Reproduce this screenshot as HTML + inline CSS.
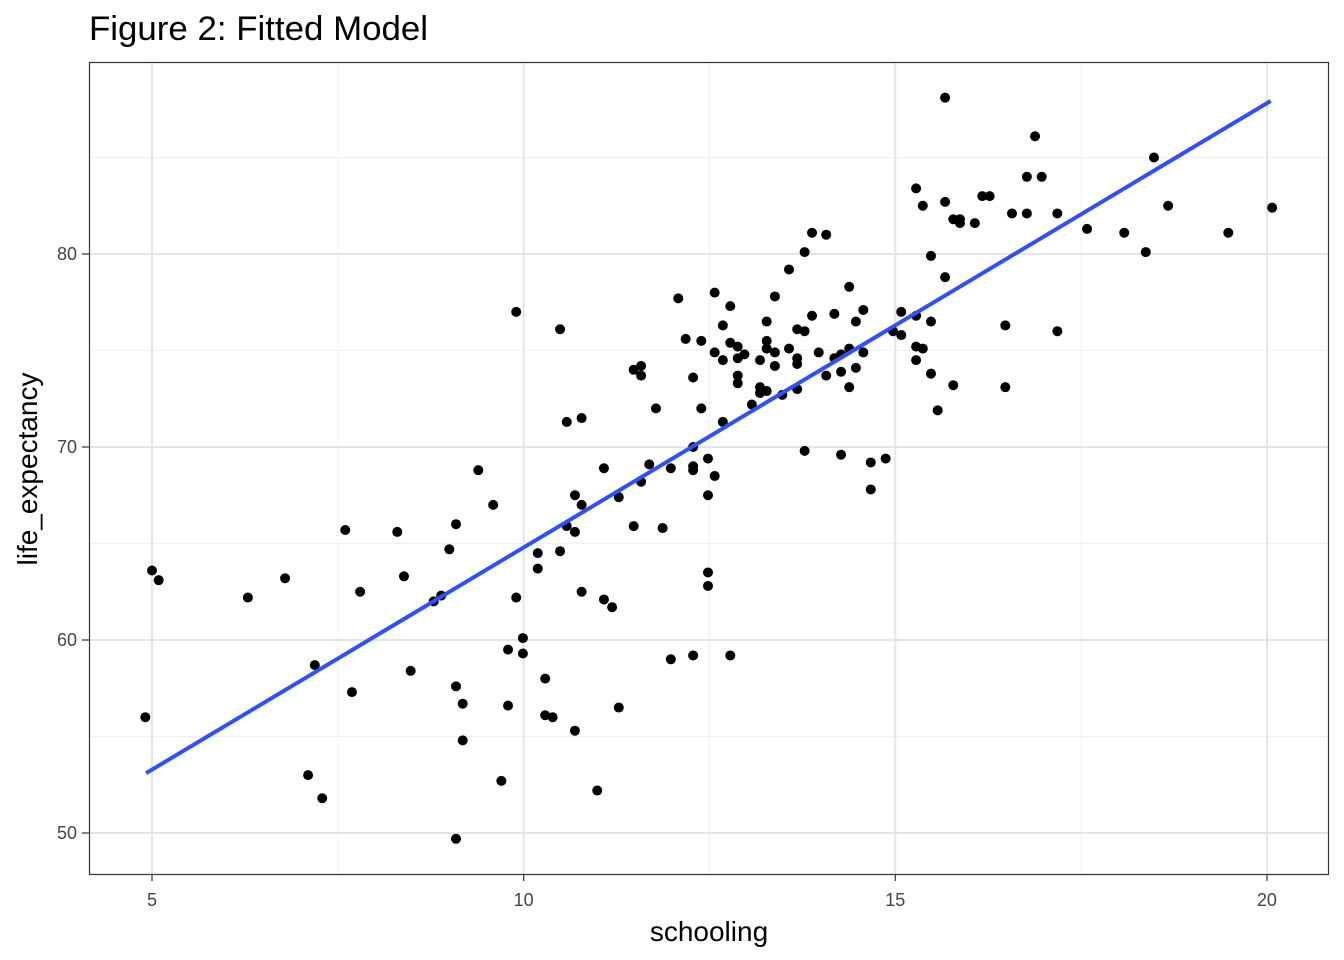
<!DOCTYPE html>
<html><head><meta charset="utf-8"><style>
html,body{margin:0;padding:0;background:#fff;}
svg{display:block;font-family:"Liberation Sans",Arial,sans-serif;}
</style></head><body>
<svg id="chart" width="1344" height="960" viewBox="0 0 1344 960" xmlns="http://www.w3.org/2000/svg">
<text x="89" y="40" font-size="34" fill="#000" textLength="339" lengthAdjust="spacingAndGlyphs">Figure 2: Fitted Model</text>
<g id="grid"></g>
<g id="points"></g>
<g id="fit"></g>
<rect x="89.5" y="62.5" width="1239" height="812" fill="none" stroke="#333" stroke-width="1.2"/>
<g id="axes"></g>
<text x="709" y="941" font-size="28" text-anchor="middle" fill="#000">schooling</text>
<text transform="translate(37,469) rotate(-90)" font-size="28" text-anchor="middle" fill="#000">life_expectancy</text>
</svg>
<script>
const schooling=[4.91,5.0,5.09,6.29,6.79,7.19,7.10,7.29,7.6,7.69,7.8,8.3,8.39,8.48,8.79,8.89,9.0,9.09,9.09,9.18,9.18,9.09,9.39,9.59,9.7,9.79,9.79,9.9,9.9,9.99,9.99,10.19,10.19,10.29,10.29,10.39,10.49,10.49,10.58,10.58,10.69,10.69,10.69,10.78,10.78,10.78,10.99,11.08,11.08,11.19,11.28,11.28,11.48,11.48,11.58,11.58,11.58,11.69,11.78,11.87,11.98,11.98,12.08,12.18,12.28,12.28,12.28,12.28,12.28,12.39,12.39,12.48,12.48,12.48,12.48,12.57,12.57,12.57,12.68,12.68,12.68,12.78,12.78,12.78,12.88,12.88,12.88,12.88,12.97,13.07,13.18,13.18,13.18,13.27,13.27,13.27,13.27,13.38,13.38,13.38,13.48,13.57,13.57,13.68,13.68,13.68,13.68,13.78,13.78,13.78,13.88,13.88,13.97,14.07,14.07,14.18,14.18,14.27,14.27,14.27,14.38,14.38,14.38,14.47,14.47,14.57,14.57,14.67,14.67,14.87,14.97,15.08,15.08,15.28,15.28,15.28,15.28,15.37,15.37,15.48,15.48,15.48,15.57,15.67,15.67,15.67,15.78,15.78,15.87,15.87,16.07,16.17,16.27,16.48,16.48,16.57,16.77,16.77,16.88,16.97,17.18,17.18,17.58,18.08,18.37,18.48,18.67,19.48,20.07];
const lifeExpectancy=[56.0,63.6,63.1,62.2,63.2,58.7,53.0,51.8,65.7,57.3,62.5,65.6,63.3,58.4,62.0,62.3,64.7,66.0,57.6,56.7,54.8,49.7,68.8,67.0,52.7,59.5,56.6,77.0,62.2,60.1,59.3,64.5,63.7,58.0,56.1,56.0,76.1,64.6,71.3,65.9,67.5,65.6,55.3,71.5,67.0,62.5,52.2,68.9,62.1,61.7,67.4,56.5,74.0,65.9,74.2,73.7,68.2,69.1,72.0,65.8,68.9,59.0,77.7,75.6,73.6,70.0,69.0,68.8,59.2,75.5,72.0,69.4,67.5,63.5,62.8,78.0,74.9,68.5,76.3,74.5,71.3,77.3,75.4,59.2,75.2,74.6,73.7,73.3,74.8,72.2,74.5,73.1,72.8,76.5,75.5,75.1,72.9,77.8,74.9,74.2,72.7,79.2,75.1,76.1,74.6,74.3,73.0,80.1,76.0,69.8,81.1,76.8,74.9,81.0,73.7,76.9,74.6,74.8,73.9,69.6,78.3,75.1,73.1,76.5,74.1,77.1,74.9,69.2,67.8,69.4,76.0,77.0,75.8,83.4,76.8,75.2,74.5,82.5,75.1,79.9,76.5,73.8,71.9,88.1,82.7,78.8,81.8,73.2,81.8,81.6,81.6,83.0,83.0,76.3,73.1,82.1,84.0,82.1,86.1,84.0,82.1,76.0,81.3,81.1,80.1,85.0,82.5,81.1,82.4];
const fitX=[4.92,20.05];
const fitY=[53.1,87.93];
const xTicks=[5,10,15,20];
const xMinor=[7.5,12.5,17.5];
const yTicks=[50,60,70,80];
const yMinor=[55,65,75,85];

const NS="http://www.w3.org/2000/svg";
const X=v=>152+(v-5)*74.33;
const Y=v=>833-(v-50)*19.3;
function mk(tag,attrs,parent){const e=document.createElementNS(NS,tag);for(const k in attrs)e.setAttribute(k,attrs[k]);parent.appendChild(e);return e;}
const grid=document.getElementById('grid'),pts=document.getElementById('points'),fit=document.getElementById('fit'),axes=document.getElementById('axes');
mk('rect',{x:89,y:62,width:1239,height:812,fill:'#fff'},grid);
xMinor.forEach(v=>{const l=mk('line',{x1:X(v),x2:X(v),y1:62,y2:874,stroke:'#f0f0f0','stroke-width':1},grid);

});
yMinor.forEach(v=>{const l=mk('line',{x1:89,x2:1328,y1:Y(v),y2:Y(v),stroke:'#f0f0f0','stroke-width':1},grid);

});
xTicks.forEach(v=>{const l=mk('line',{x1:X(v),x2:X(v),y1:62,y2:874,stroke:'#e5e5e5','stroke-width':2},grid);


const t=mk('line',{x1:X(v),x2:X(v),y1:874,y2:881,stroke:'#333','stroke-width':1.2},axes);


const tx=mk('text',{x:X(v),y:906,'font-size':18,'text-anchor':'middle',fill:'#444'},axes);tx.textContent=v;

});
yTicks.forEach(v=>{const l=mk('line',{x1:89,x2:1328,y1:Y(v),y2:Y(v),stroke:'#e5e5e5','stroke-width':2},grid);


const t=mk('line',{x1:82,x2:89,y1:Y(v),y2:Y(v),stroke:'#333','stroke-width':1.2},axes);


const tx=mk('text',{x:77,y:Y(v)+6,'font-size':18,'text-anchor':'end',fill:'#444'},axes);tx.textContent=v;

});
schooling.forEach((s,i)=>{const c=mk('circle',{cx:X(s),cy:Y(lifeExpectancy[i]),r:5,fill:'#000'},pts);

});
const ln=mk('line',{x1:X(fitX[0]),y1:Y(fitY[0]),x2:X(fitX[1]),y2:Y(fitY[1]),stroke:'#3050f8','stroke-width':4},fit);


</script>
</body></html>
